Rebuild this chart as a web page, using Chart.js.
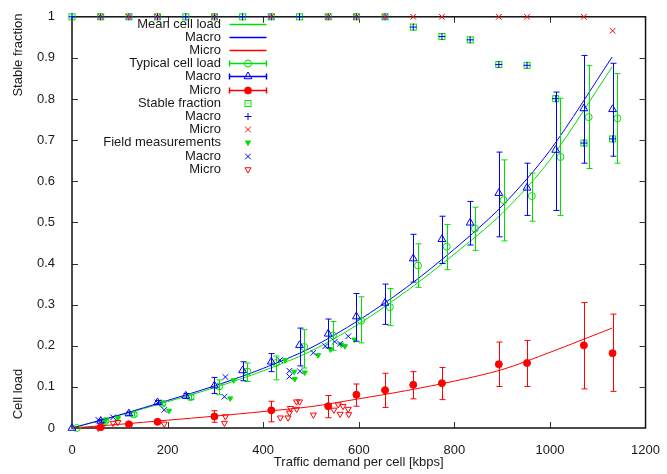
<!DOCTYPE html>
<html>
<head>
<meta charset="UTF-8">
<title>Cell load and stable fraction</title>
<style>
  body { margin: 0; background: #fff; }
</style>
</head>
<body>
<canvas id="myChart" width="667" height="474"></canvas>
<script src="https://cdn.jsdelivr.net/npm/chart.js@4"></script>
<script>
// traffic demand per cell [kbps] of the simulated points
var demand = [0, 60, 119, 179, 238, 298, 357, 417, 476, 536, 595, 655, 714, 774, 833, 893, 952, 1012, 1071, 1131];
var typicalDemand = [10, 70, 129, 189, 248, 308, 367, 427, 486, 546, 605, 665, 724, 784, 843, 903, 962, 1022, 1081, 1141];

// typical cell load (all cells)
var typicalLoad = [0, 0.017, 0.033, 0.059, 0.075, 0.101, 0.137, 0.158, 0.197, 0.225, 0.261, 0.294, 0.395, 0.441, 0.485, 0.554, 0.564, 0.659, 0.756, 0.753];
var typicalLow  = [0, 0.014, 0.029, 0.054, 0.069, 0.081, 0.113, 0.117, 0.146, 0.189, 0.207, 0.249, 0.342, 0.385, 0.432, 0.455, 0.503, 0.517, 0.631, 0.644];
var typicalHigh = [0, 0.020, 0.037, 0.064, 0.081, 0.117, 0.158, 0.175, 0.239, 0.259, 0.319, 0.339, 0.448, 0.495, 0.537, 0.652, 0.620, 0.802, 0.881, 0.862];

// macro cells
var macroLoad = [0, 0.017, 0.035, 0.062, 0.078, 0.103, 0.140, 0.161, 0.201, 0.229, 0.271, 0.304, 0.412, 0.459, 0.499, 0.571, 0.584, 0.676, 0.777, 0.775];
var macroLow  = [0, 0.014, 0.031, 0.057, 0.072, 0.084, 0.115, 0.137, 0.151, 0.195, 0.211, 0.252, 0.355, 0.400, 0.445, 0.465, 0.517, 0.529, 0.644, 0.661];
var macroHigh = [0, 0.021, 0.039, 0.067, 0.084, 0.123, 0.161, 0.181, 0.243, 0.265, 0.327, 0.350, 0.471, 0.515, 0.551, 0.671, 0.644, 0.817, 0.906, 0.887];

// micro cells
var microDemand = [60, 119, 179, 298, 417, 536, 595, 655, 714, 774, 893, 952, 1071, 1131];
var microLoad = [0.002, 0.009, 0.015, 0.028, 0.043, 0.053, 0.081, 0.092, 0.105, 0.109, 0.155, 0.158, 0.201, 0.182];
var microLow  = [0.000, 0.006, 0.011, 0.014, 0.015, 0.025, 0.053, 0.050, 0.071, 0.069, 0.101, 0.101, 0.095, 0.089];
var microHigh = [0.004, 0.012, 0.019, 0.042, 0.065, 0.079, 0.107, 0.133, 0.137, 0.147, 0.209, 0.213, 0.305, 0.277];

// stable fraction
var stableAll   = [1, 1, 1, 1, 1, 1, 1, 1, 1, 1, 1, 1, 0.975, 0.952, 0.944, 0.884, 0.882, 0.801, 0.693, 0.703];
var stableMacro = [1, 1, 1, 1, 1, 1, 1, 1, 1, 1, 1, 1, 0.975, 0.952, 0.944, 0.884, 0.882, 0.801, 0.693, 0.703];
var stableMicro = [1, 1, 1, 1, 1, 1, 1, 1, 1, 1, 1, 1, 1, 0.966];

// mean cell load curves
var curveDemand = [0, 100, 200, 300, 400, 500, 600, 700, 800, 900, 1000, 1130];
var meanCurve   = [0, 0.031, 0.064, 0.099, 0.139, 0.187, 0.253, 0.333, 0.423, 0.522, 0.652, 0.878];
var macroCurve  = [0, 0.032, 0.067, 0.103, 0.145, 0.195, 0.262, 0.342, 0.435, 0.540, 0.675, 0.902];
var microCurve  = [0, 0.009, 0.019, 0.029, 0.040, 0.052, 0.071, 0.091, 0.114, 0.142, 0.184, 0.243];

// field measurements
var fieldAllX = [69, 96, 203, 331, 338, 446, 465, 466, 487, 515, 541, 563, 571, 591];
var fieldAllY = [0.017, 0.024, 0.042, 0.072, 0.116, 0.165, 0.137, 0.119, 0.135, 0.177, 0.191, 0.203, 0.199, 0.215];
var fieldMacroX = [55, 86, 179, 193, 319, 321, 435, 455, 455, 477, 505, 530, 550, 561, 578];
var fieldMacroY = [0.020, 0.026, 0.062, 0.044, 0.076, 0.124, 0.165, 0.139, 0.125, 0.138, 0.183, 0.199, 0.210, 0.205, 0.223];
var fieldMicroX = [55, 86, 96, 193, 319, 321, 436, 452, 455, 457, 470, 470, 476, 505, 548, 557, 561, 567, 578, 579];
var fieldMicroY = [0.000, 0.012, 0.014, 0.010, 0.012, 0.028, 0.025, 0.025, 0.037, 0.048, 0.064, 0.046, 0.064, 0.032, 0.044, 0.057, 0.034, 0.053, 0.046, 0.033];

var GREEN = 'rgb(0,225,0)';
var BLUE = '#0000ff';
var RED = '#ff0000';
var NONE = 'rgba(0,0,0,0)';
var FONT = '"Liberation Sans", Arial, sans-serif';

function pts(xs, ys) {
    return xs.map(function (x, i) { return {x: x, y: ys[i]}; });
}

// box with a dot in the middle (gnuplot point type)
function boxDot(color) {
    var c = document.createElement('canvas');
    c.width = 9; c.height = 9;
    var g = c.getContext('2d');
    g.strokeStyle = color;
    g.lineWidth = 1;
    g.strokeRect(1.5, 1.5, 6, 6);
    g.fillStyle = color;
    g.fillRect(4, 4, 1, 1);
    return c;
}
var boxGreen = boxDot(GREEN);

function curve(ys, color, order) {
    return {
        type: 'line', data: pts(curveDemand, ys), borderColor: color, borderWidth: 1,
        pointRadius: 0, tension: 0.3, fill: false, order: order, clip: false
    };
}
function marks(data, style, radius, stroke, fillCol, order, extra) {
    var d = {
        type: 'scatter', data: data, pointStyle: style, pointRadius: radius,
        borderColor: stroke, backgroundColor: fillCol, pointBorderWidth: 1,
        showLine: false, order: order, clip: false
    };
    for (var k in extra) d[k] = extra[k];
    return d;
}

var datasets = [
    curve(meanCurve, GREEN, 30),
    curve(macroCurve, BLUE, 29),
    curve(microCurve, RED, 28),
    marks(pts(typicalDemand, typicalLoad), 'circle', 3.5, GREEN, NONE, 20,
        {errLow: typicalLow, errHigh: typicalHigh}),
    marks(pts(demand, macroLoad), 'triangle', 4.5, BLUE, NONE, 19,
        {errLow: macroLow, errHigh: macroHigh}),
    marks(pts(microDemand, microLoad), 'circle', 3.5, RED, RED, 18,
        {errLow: microLow, errHigh: microHigh}),
    marks(pts(demand, stableAll), boxGreen, 4, GREEN, NONE, 10),
    marks(pts(demand, stableMacro), 'cross', 3.5, BLUE, NONE, 9),
    marks(pts(microDemand, stableMicro), 'crossRot', 4, RED, NONE, 8),
    marks(pts(fieldAllX, fieldAllY), 'triangle', 3, GREEN, GREEN, 7, {pointRotation: 180}),
    marks(pts(fieldMacroX, fieldMacroY), 'crossRot', 4, BLUE, NONE, 6),
    marks(pts(fieldMicroX, fieldMicroY), 'triangle', 3.5, RED, NONE, 5, {pointRotation: 180})
];

//------------------------------------------------------------------------------
// frame with inward ticks on all four sides (drawn before the marks)
var framePlugin = {
    id: 'frame',
    beforeDatasetsDraw: function (chart) {
        var ctx = chart.ctx, a = chart.chartArea;
        var xs = chart.scales.x, ys = chart.scales.y;
        ctx.save();
        ctx.strokeStyle = '#333';
        ctx.lineWidth = 1;
        ctx.beginPath();
        xs.ticks.forEach(function (t) {
            if (t.value <= xs.min || t.value >= xs.max) return;
            var px = Math.round(xs.getPixelForValue(t.value)) + 0.5;
            ctx.moveTo(px, a.bottom); ctx.lineTo(px, a.bottom - 6);
            ctx.moveTo(px, a.top); ctx.lineTo(px, a.top + 6);
        });
        ys.ticks.forEach(function (t) {
            if (t.value <= ys.min || t.value >= ys.max) return;
            var py = Math.round(ys.getPixelForValue(t.value)) + 0.5;
            ctx.moveTo(a.left, py); ctx.lineTo(a.left + 6, py);
            ctx.moveTo(a.right, py); ctx.lineTo(a.right - 6, py);
        });
        ctx.stroke();
        ctx.strokeStyle = '#111';
        ctx.lineWidth = 1.5;
        ctx.strokeRect(a.left, a.top, a.right - a.left, a.bottom - a.top);
        ctx.restore();
    }
};

// vertical error bars with small caps
var errorBarPlugin = {
    id: 'errorBars',
    afterDatasetsDraw: function (chart) {
        var ctx = chart.ctx, xs = chart.scales.x, ys = chart.scales.y;
        ctx.save();
        ctx.lineWidth = 1;
        chart.data.datasets.forEach(function (ds) {
            if (!ds.errLow) return;
            ctx.strokeStyle = ds.borderColor;
            ctx.beginPath();
            ds.data.forEach(function (p, i) {
                if (ds.errHigh[i] - ds.errLow[i] <= 0) return;
                var px = Math.round(xs.getPixelForValue(p.x)) + 0.5;
                var y1 = ys.getPixelForValue(ds.errLow[i]);
                var y2 = ys.getPixelForValue(ds.errHigh[i]);
                ctx.moveTo(px, y1); ctx.lineTo(px, y2);
                ctx.moveTo(px - 3, y1); ctx.lineTo(px + 3, y1);
                ctx.moveTo(px - 3, y2); ctx.lineTo(px + 3, y2);
            });
            ctx.stroke();
        });
        ctx.restore();
    }
};

// gnuplot style key, axis titles
var keyRows = [
    {text: 'Mean cell load', kind: 'line', ds: 0},
    {text: 'Macro', kind: 'line', ds: 1},
    {text: 'Micro', kind: 'line', ds: 2},
    {text: 'Typical cell load', kind: 'err', ds: 3},
    {text: 'Macro', kind: 'err', ds: 4},
    {text: 'Micro', kind: 'err', ds: 5},
    {text: 'Stable fraction', kind: 'pt', ds: 6},
    {text: 'Macro', kind: 'pt', ds: 7},
    {text: 'Micro', kind: 'pt', ds: 8},
    {text: 'Field measurements', kind: 'pt', ds: 9},
    {text: 'Macro', kind: 'pt', ds: 10},
    {text: 'Micro', kind: 'pt', ds: 11}
];

function drawMark(ctx, ds, x, y) {
    ctx.save();
    ctx.strokeStyle = ds.borderColor;
    ctx.fillStyle = ds.backgroundColor;
    ctx.lineWidth = 1;
    Chart.helpers.drawPoint(ctx, {
        pointStyle: ds.pointStyle, radius: ds.pointRadius,
        rotation: ds.pointRotation || 0, borderWidth: 1
    }, x, y);
    ctx.restore();
}

var keyPlugin = {
    id: 'gnuKey',
    afterDraw: function (chart) {
        var ctx = chart.ctx, a = chart.chartArea;
        ctx.save();
        ctx.font = '13px ' + FONT;
        ctx.fillStyle = '#1a1a1a';
        ctx.textAlign = 'right';
        ctx.textBaseline = 'middle';
        var x0 = 229.5, x1 = 266.5, xm = 248;
        keyRows.forEach(function (r, i) {
            var y = Math.round(23.5 + i * 13.2) + 0.5;
            var ds = chart.data.datasets[r.ds];
            ctx.fillStyle = '#1a1a1a';
            ctx.fillText(r.text, 221, y);
            ctx.strokeStyle = ds.borderColor;
            ctx.lineWidth = 1.5;
            if (r.kind === 'line' || r.kind === 'err') {
                ctx.beginPath();
                ctx.moveTo(x0, y); ctx.lineTo(x1, y);
                if (r.kind === 'err') {
                    ctx.moveTo(x0, y - 3); ctx.lineTo(x0, y + 3);
                    ctx.moveTo(x1, y - 3); ctx.lineTo(x1, y + 3);
                }
                ctx.stroke();
            }
            if (r.kind !== 'line') drawMark(ctx, ds, xm, y);
        });

        ctx.fillStyle = '#1a1a1a';
        ctx.textAlign = 'center';
        ctx.fillText('Traffic demand per cell [kbps]', (a.left + a.right) / 2, 462);
        ctx.save();
        ctx.translate(18, 55);
        ctx.rotate(-Math.PI / 2);
        ctx.fillText('Stable fraction', 0, 0);
        ctx.restore();
        ctx.save();
        ctx.translate(18, 394);
        ctx.rotate(-Math.PI / 2);
        ctx.fillText('Cell load', 0, 0);
        ctx.restore();
        ctx.restore();
    }
};

//------------------------------------------------------------------------------
var ctx = document.getElementById('myChart');
var myChart = new Chart(ctx, {
    type: 'scatter',
    data: {datasets: datasets},
    options: {
        responsive: false,
        animation: false,
        layout: {padding: {top: 11, right: 16, left: 0, bottom: 0}},
        plugins: {legend: {display: false}, tooltip: {enabled: false}},
        scales: {
            x: {
                type: 'linear', min: 0, max: 1200,
                grid: {display: false}, border: {display: false},
                ticks: {
                    stepSize: 200, color: '#1a1a1a', padding: 7, font: {size: 13, family: FONT},
                    callback: function (v) { return String(v); }
                },
                afterFit: function (s) { s.height = 46; }
            },
            y: {
                type: 'linear', min: 0, max: 1,
                grid: {display: false}, border: {display: false},
                ticks: {
                    stepSize: 0.1, color: '#1a1a1a', padding: 9, font: {size: 13, family: FONT},
                    callback: function (v) { return String(+v.toFixed(1)); }
                },
                afterFit: function (s) { s.width = 72; }
            }
        }
    },
    plugins: [framePlugin, errorBarPlugin, keyPlugin]
});
</script>
</body>
</html>
